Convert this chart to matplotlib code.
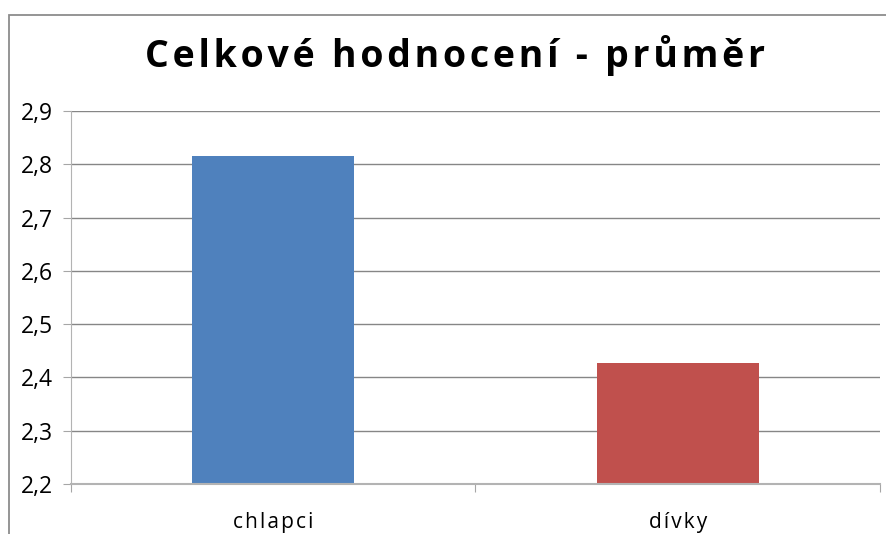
from matplotlib import patches
from matplotlib import pyplot as plt

categories = ["chlapci", "dívky"]
values = [2.816, 2.428]
bar_colors = ["#4F81BD", "#C0504D"]
y_ticks = [2.2, 2.3, 2.4, 2.5, 2.6, 2.7, 2.8, 2.9]
title = "Celkové hodnocení - průměr"

HAIR = "\u200a"


def spaced(s):
    # the original chart uses wide letter spacing
    return HAIR.join(s)


def main():
    plt.rcParams["font.family"] = ["Open Sans", "DejaVu Sans"]

    fig = plt.figure(figsize=(8.87, 5.34), dpi=100)
    ax = fig.add_axes([0.0800, 0.0936, 0.9121, 0.6985])

    x = range(len(categories))
    ax.bar(x, [v - y_ticks[0] for v in values], bottom=y_ticks[0],
           width=0.4, color=bar_colors, zorder=3)

    ax.set_xlim(-0.5, len(categories) - 0.5)
    ax.set_ylim(y_ticks[0], y_ticks[-1])
    ax.set_yticks(y_ticks)
    ax.set_yticklabels([f"{t:.1f}".replace(".", ",") for t in y_ticks], fontsize=16.5)
    ax.yaxis.grid(True, color="#868686", linewidth=1, zorder=0)

    # category labels centred, ticks at category boundaries
    ax.set_xticks([i - 0.5 for i in range(len(categories) + 1)])
    ax.set_xticklabels([])
    ax.set_xticks(list(x), minor=True)
    ax.set_xticklabels([spaced(c) for c in categories], minor=True, fontsize=15)
    ax.tick_params(axis="x", which="minor", length=0, pad=20)
    ax.tick_params(axis="x", which="major", length=6, color="#A6A6A6", direction="out")
    ax.tick_params(axis="y", length=6, color="#A6A6A6", pad=7)

    for side in ("top", "right"):
        ax.spines[side].set_visible(False)
    ax.spines["left"].set_color("#B3B3B3")
    ax.spines["bottom"].set_color("#B3B3B3")
    ax.spines["bottom"].set_linewidth(1.5)
    ax.spines["bottom"].set_zorder(4)

    fig.text(0.513, 0.897, spaced(title), ha="center", va="center",
             fontsize=27, fontweight="bold")

    border = patches.Rectangle((9 / 887, -0.2), 1.1, 1.2 - 15 / 534,
                               transform=fig.transFigure, fill=False,
                               edgecolor="#8C8C8C", linewidth=1.3)
    fig.patches.append(border)

    fig.savefig("out.png", dpi=100)


if __name__ == "__main__":
    main()
